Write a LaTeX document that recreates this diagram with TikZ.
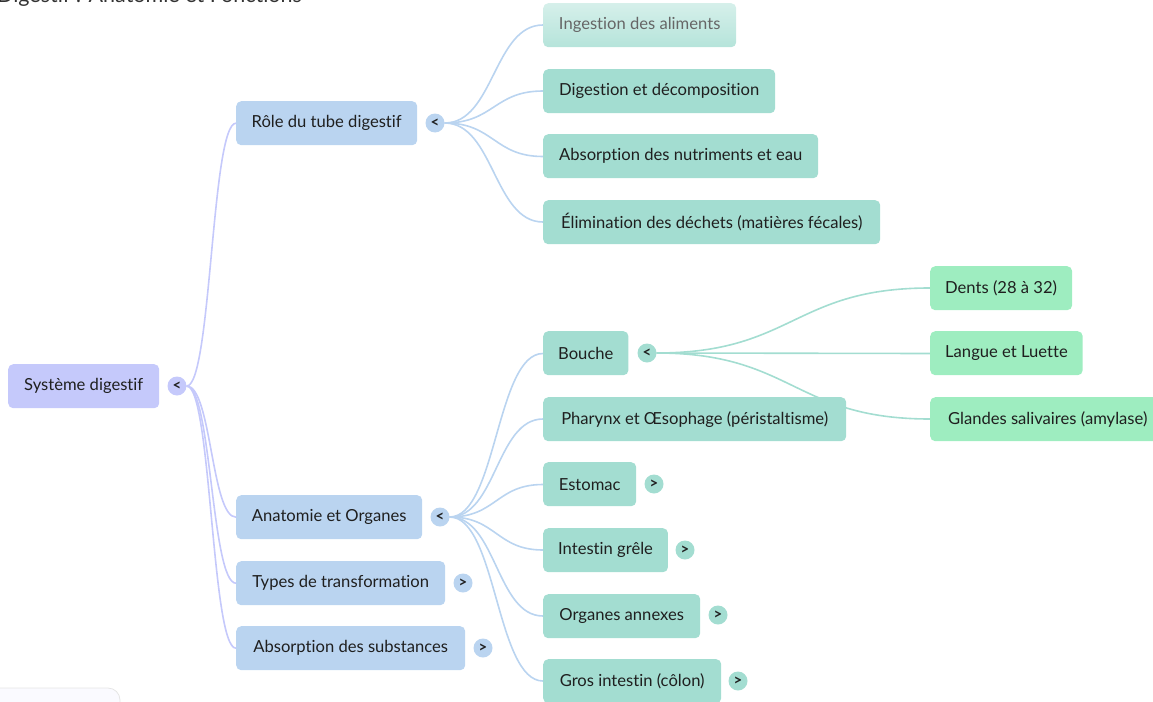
\documentclass[tikz,border=0pt]{standalone}
\usepackage{fontspec}
\setmainfont{Lato}[Ligatures=NoCommon]
\usetikzlibrary{calc}
\definecolor{rootc}{HTML}{C5C9FB}
\definecolor{lonec}{HTML}{BAD4F0}
\definecolor{ltwoc}{HTML}{A3DDD1}
\definecolor{lthreec}{HTML}{9EEDC0}
\definecolor{txtc}{HTML}{1F1F1F}
\tikzset{
  mbox/.style={rounded corners=5pt, anchor=north west, inner xsep=15pt, inner ysep=0pt,
    minimum height=44pt, text=txtc, font=\fontsize{16.6}{19}\selectfont},
  rootbox/.style={mbox, fill=rootc},
  onebox/.style={mbox, fill=lonec},
  twobox/.style={mbox, fill=ltwoc},
  threebox/.style={mbox, fill=lthreec},
  tog/.style={circle, minimum size=19pt, inner sep=0pt, text=txtc, font=\fontsize{15}{16}\selectfont\bfseries},
  lnk/.style={line width=1.6pt},
}
\newcommand{\mlink}[3]{\draw[lnk,#1] let \p1=(#2), \p2=(#3) in (\p1) .. controls ({0.5*\x1+0.5*\x2},\y1) and ({0.5*\x1+0.5*\x2},\y2) .. (\p2);}
\begin{document}
\begin{tikzpicture}[x=1pt,y=-1pt]
\useasboundingbox (0,0) rectangle (1153,701);
\clip (0,0) rectangle (1153,701);
% title (cut off at the top edge)
\node[anchor=base east, inner sep=0pt, text=black!80, font=\fontsize{21.5}{25}\selectfont] (title) at (302,3) {Digestif : Anatomie et Fonctions};
% bottom-left panel
\draw[rounded corners=12pt, draw=black!10, fill=blue!2, line width=0.8pt] (-20,688) rectangle (120,730);
% level 1 nodes
\node[rootbox, minimum width=151pt] (root) at (8,364) {Système digestif};
\node[onebox, minimum width=181pt] (role) at (236,101) {Rôle du tube digestif};
\node[onebox, minimum width=186pt] (anat) at (236,495) {Anatomie et Organes};
\node[onebox, minimum width=209pt] (types) at (236,561) {Types de transformation};
\node[onebox, minimum width=229pt] (abss) at (236,626) {Absorption des substances};
\node[tog, fill=rootc] (c-root) at (177,386) {<};
\node[tog, fill=lonec] (c-role) at (435,123) {<};
\node[tog, fill=lonec] (c-anat) at (440,517) {<};
\node[tog, fill=lonec] (c-types) at (463,583) {>};
\node[tog, fill=lonec] (c-abss) at (483,648) {>};
% attachment points of the boxes drawn later
\coordinate (w-ing) at (543,25);
\coordinate (w-dig) at (543,91);
\coordinate (w-absn) at (543,156.5);
\coordinate (w-elim) at (543,222);
\coordinate (w-bouche) at (543,353.5);
\coordinate (w-phar) at (543,419);
\coordinate (w-est) at (543,484.5);
\coordinate (w-int) at (543,550);
\coordinate (w-org) at (543,616);
\coordinate (w-gros) at (543,681);
\coordinate (w-dents) at (930,288);
\coordinate (w-langue) at (930,353.5);
\coordinate (w-glandes) at (930,419);
\node[tog, fill=ltwoc] (c-bouche) at (647,353) {<};
% links
\mlink{rootc}{c-root.east}{role.west}
\mlink{rootc}{c-root.east}{anat.west}
\mlink{rootc}{c-root.east}{types.west}
\mlink{rootc}{c-root.east}{abss.west}
\mlink{lonec}{c-role.east}{w-ing}
\mlink{lonec}{c-role.east}{w-dig}
\mlink{lonec}{c-role.east}{w-absn}
\mlink{lonec}{c-role.east}{w-elim}
\mlink{lonec}{c-anat.east}{w-bouche}
\mlink{lonec}{c-anat.east}{w-phar}
\mlink{lonec}{c-anat.east}{w-est}
\mlink{lonec}{c-anat.east}{w-int}
\mlink{lonec}{c-anat.east}{w-org}
\mlink{lonec}{c-anat.east}{w-gros}
\mlink{ltwoc}{c-bouche.east}{w-dents}
\mlink{ltwoc}{c-bouche.east}{w-langue}
\mlink{ltwoc}{c-bouche.east}{w-glandes}
% level 2 boxes
\node[mbox, top color=ltwoc!45, bottom color=ltwoc!80, text=black!60, minimum width=193pt] (ing) at (543,3) {Ingestion des aliments};
\node[twobox, minimum width=232pt] (dig) at (543,69) {Digestion et décomposition};
\node[twobox, minimum width=275pt] (absn) at (543,134) {Absorption des nutriments et eau};
\node[twobox, minimum width=337pt] (elim) at (543,200) {Élimination des déchets (matières fécales)};
\node[twobox, minimum width=85pt] (bouche) at (543,331) {Bouche};
\node[twobox, minimum width=303pt] (phar) at (543,397) {Pharynx et Œsophage (péristaltisme)};
\node[twobox, minimum width=93pt] (est) at (543,462) {Estomac};
\node[twobox, minimum width=124pt] (int) at (543,528) {Intestin grêle};
\node[twobox, minimum width=157pt] (org) at (543,594) {Organes annexes};
\node[twobox, minimum width=178pt] (gros) at (543,659) {Gros intestin (côlon)};
\node[tog, fill=ltwoc] (c-est) at (654,484) {>};
\node[tog, fill=ltwoc] (c-int) at (685,550) {>};
\node[tog, fill=ltwoc] (c-org) at (718,615) {>};
\node[tog, fill=ltwoc] (c-gros) at (738,681) {>};
% level 3 boxes
\node[threebox, minimum width=137pt] (dents) at (930,266) {Dents (28 à 32)};
\node[threebox, minimum width=152pt] (langue) at (930,331) {Langue et Luette};
\node[threebox, minimum width=235pt] (glandes) at (930,397) {Glandes salivaires (amylase)};
\end{tikzpicture}
\end{document}
